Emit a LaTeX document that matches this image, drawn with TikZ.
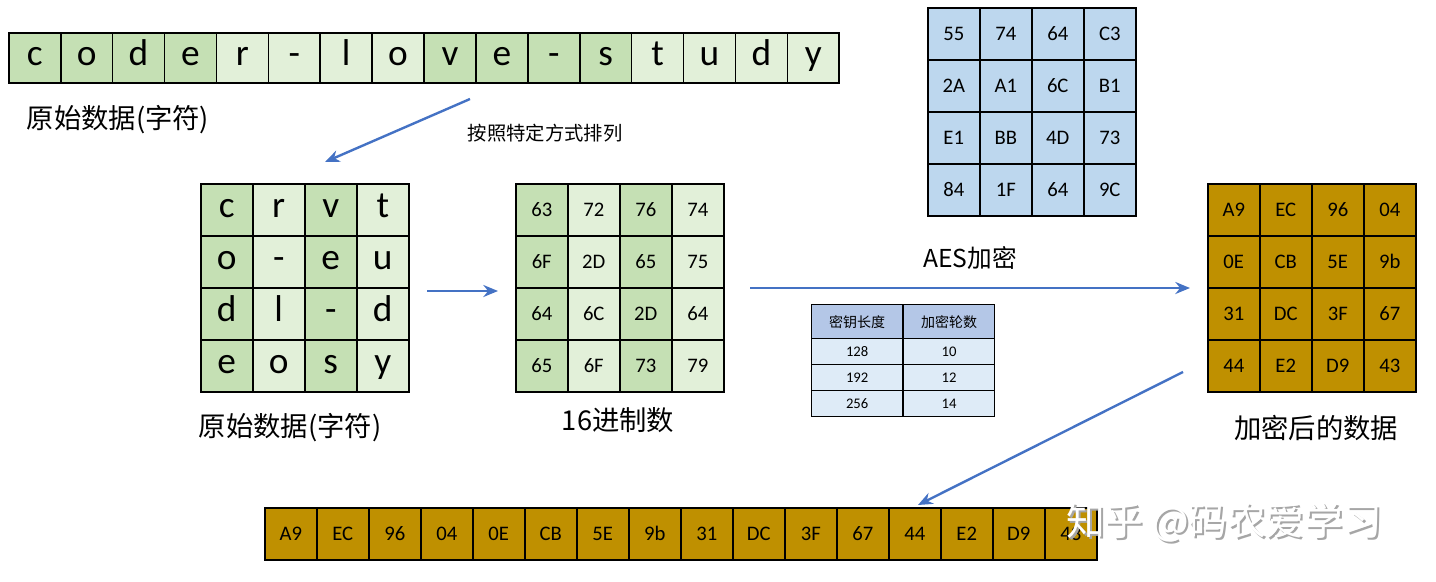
\documentclass[tikz,border=0pt]{standalone}
\usepackage{fontspec}
\setmainfont{Carlito}
\newfontfamily\cjk{Noto Sans CJK SC}
\usetikzlibrary{arrows.meta}
\definecolor{gD}{HTML}{C5E0B4}
\definecolor{gL}{HTML}{E2F0D9}
\definecolor{bK}{HTML}{BDD7EE}
\definecolor{gold}{HTML}{BF9000}
\definecolor{tH}{HTML}{B4C7E7}
\definecolor{tR}{HTML}{DEEBF7}
\definecolor{arr}{HTML}{4472C4}
\begin{document}
\begin{tikzpicture}[x=0.75pt,y=-0.75pt,
  cell/.style={draw=black,line width=1.2pt,minimum width=51.9*0.75pt,minimum height=51.9*0.75pt,inner sep=0pt,anchor=north west},
  big/.style={font=\fontsize{28}{30}\selectfont,text height=15pt,text depth=4pt},
  hex/.style={font=\fontsize{15.5}{17}\selectfont},
  lab/.style={font=\cjk\fontsize{20.5}{22}\selectfont},
  conn/.style={draw=arr,line width=1.8pt,-{Stealth[length=11pt,width=9pt]}},
  tcell/.style={draw=black,line width=1pt,inner sep=0pt,anchor=north west,minimum width=91*0.75pt,minimum height=26*0.75pt,font=\fontsize{11}{12}\selectfont}]
\useasboundingbox (0,0) rectangle (1436,582);
% top strip
\foreach \t [count=\i from 0] in {c,o,d,e,r,-,l,o,v,e,-,s,t,u,d,y}{
  \pgfmathtruncatemacro{\g}{mod(floor(\i/4),2)}
  \ifnum\g=0 \def\fc{gD}\else\def\fc{gL}\fi
  \node[cell,big,fill=\fc,minimum height=50*0.75pt] (s\i) at ({8+\i*51.9},32) {\t};
}
\node[lab] (l1) at (118,120) {原始数据(字符)};
% char grid
\foreach \r/\row in {0/{c,r,v,t},1/{o,-,e,u},2/{d,l,-,d},3/{e,o,s,y}}{
  \foreach \t [count=\c from 0] in \row {
    \pgfmathtruncatemacro{\g}{mod(\c,2)}
    \ifnum\g=0 \def\fc{gD}\else\def\fc{gL}\fi
    \node[cell,big,fill=\fc] (a\r\c) at ({200+\c*52},{183+\r*52}) {\t};
  }}
\node[lab] (l2) at (290,428) {原始数据(字符)};
% hex grid
\foreach \r/\row in {0/{63,72,76,74},1/{6F,2D,65,75},2/{64,6C,2D,64},3/{65,6F,73,79}}{
  \foreach \t [count=\c from 0] in \row {
    \pgfmathtruncatemacro{\g}{mod(\c,2)}
    \ifnum\g=0 \def\fc{gD}\else\def\fc{gL}\fi
    \node[cell,hex,fill=\fc] (h\r\c) at ({515+\c*52},{183+\r*52}) {\t};
  }}
\node[lab] (l3) at (618,420) {16进制数};
% key grid
\foreach \r/\row in {0/{55,74,64,C3},1/{2A,A1,6C,B1},2/{E1,BB,4D,73},3/{84,1F,64,9C}}{
  \foreach \t [count=\c from 0] in \row {
    \node[cell,hex,fill=bK] (k\r\c) at ({927+\c*52},{7+\r*52}) {\t};
  }}
% result grid
\foreach \r/\row in {0/{A9,EC,96,04},1/{0E,CB,5E,9b},2/{31,DC,3F,67},3/{44,E2,D9,43}}{
  \foreach \t [count=\c from 0] in \row {
    \node[cell,hex,fill=gold] (e\r\c) at ({1207+\c*52},{183+\r*52}) {\t};
  }}
\node[lab] (l4) at (1316,428) {加密后的数据};
% bottom strip
\foreach \t [count=\i from 0] in {A9,EC,96,04,0E,CB,5E,9b,31,DC,3F,67,44,E2,D9,43}{
  \node[cell,hex,fill=gold] (b\i) at ({264+\i*52},507) {\t};
}
% table
\node[tcell,fill=tH,minimum height=34*0.75pt,font=\cjk\fontsize{10.5}{12}\selectfont] (t00) at (811,304) {密钥长度};
\node[tcell,fill=tH,minimum height=34*0.75pt,font=\cjk\fontsize{10.5}{12}\selectfont] (t01) at (903,304) {加密轮数};
\foreach \a/\b [count=\r] in {128/10,192/12,256/14}{
  \node[tcell,fill=tR] (t\r0) at (811,{338+(\r-1)*26}) {\a};
  \node[tcell,fill=tR] (t\r1) at (903,{338+(\r-1)*26}) {\b};
}
% arrows
\coordinate (p1) at (470,99); \coordinate (p2) at (325,162);
\draw[conn] (p1) -- (p2);
\node[font=\cjk\fontsize{14.5}{16}\selectfont] (l5) at (545,133) {按照特定方式排列};
\coordinate (p3) at (427,291); \coordinate (p4) at (498,291);
\draw[conn] (p3) -- (p4);
\coordinate (p5) at (750,288); \coordinate (p6) at (1190,288);
\draw[conn] (p5) -- (p6);
\node[font=\cjk\fontsize{18.5}{20}\selectfont] (l6) at (970,258) {AES加密};
\coordinate (p7) at (1183,372); \coordinate (p8) at (918,505);
\draw[conn] (p7) -- (p8);
% watermark
\node[font=\cjk\fontsize{29}{30}\selectfont,text=gray!70] (wm0) at (1226,524) {知乎 @码农爱学习};
\node[font=\cjk\fontsize{29}{30}\selectfont,text=white] (wm) at (1224,522) {知乎 @码农爱学习};
\end{tikzpicture}
\end{document}
